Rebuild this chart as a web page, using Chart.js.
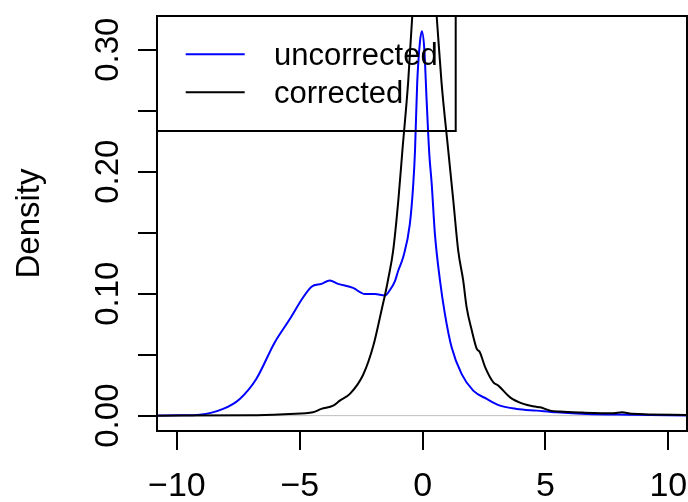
<!DOCTYPE html>
<html lang="en">
<head>
<meta charset="UTF-8" />
<title>Density</title>
<script src="https://cdn.jsdelivr.net/npm/chart.js"></script>
<style>
  html, body { margin: 0; padding: 0; background: #fff; }
  canvas { display: block; }
</style>
</head>
<body>
<canvas id="densityChart" width="688" height="502"></canvas>
<script>
// axis limits and ticks
const xRange = [-10.81, 10.76];
const yRange = [-0.0126, 0.3276];
const xTicks = [-10, -5, 0, 5, 10];
const yTicks = [0, 0.05, 0.1, 0.15, 0.2, 0.25, 0.3];
const yLabelTicks = [0, 0.1, 0.2, 0.3];
const yTitle = "Density";
const seriesNames = ["uncorrected", "corrected"];

// density curves
const uncorrectedX = [-10.81, -9.9, -9.07, -8.12, -7.44, -6.77, -6.02, -5.41, -4.86, -4.52, -4.12, -3.78, -3.44, -2.83, -2.35, -1.94, -1.54, -1.33, -1.13, -0.99, -0.79, -0.52, -0.38, -0.31, -0.22, -0.11, -0.03, 0.07, 0.16, 0.27, 0.37, 0.5, 0.7, 0.91, 1.18, 1.59, 2.06, 2.61, 3.15, 3.83, 4.65, 5.46, 6.68, 8.5, 10.76];
const uncorrectedY = [0.0001, 0.0003, 0.0008, 0.0055, 0.0137, 0.030, 0.060, 0.079, 0.097, 0.1057, 0.108, 0.1107, 0.108, 0.1047, 0.0997, 0.0997, 0.0984, 0.103, 0.110, 0.119, 0.130, 0.157, 0.19, 0.217, 0.273, 0.306, 0.315, 0.30, 0.26, 0.215, 0.19, 0.149, 0.112, 0.083, 0.056, 0.034, 0.0205, 0.0137, 0.0082, 0.0055, 0.0041, 0.0027, 0.0014, 0.0008, 0.0002];

const correctedX = [-10.81, -7.0, -5.41, -4.46, -4.12, -3.64, -3.37, -2.96, -2.42, -2.01, -1.61, -1.54, -1.4, -1.2, -0.99, -0.82, -0.59, -0.42, -0.2, 0.08, 0.35, 0.57, 0.77, 1.04, 1.25, 1.45, 1.65, 1.79, 2.0, 2.2, 2.33, 2.54, 2.88, 3.08, 3.56, 4.1, 4.58, 4.78, 5.19, 5.59, 6.5, 7.77, 8.11, 8.5, 10.76];
const correctedY = [0.0, 0.0003, 0.0014, 0.0027, 0.0055, 0.0082, 0.0123, 0.0178, 0.0335, 0.057, 0.092, 0.098, 0.112, 0.135, 0.176, 0.218, 0.273, 0.328, 0.38, 0.41, 0.38, 0.328, 0.273, 0.218, 0.176, 0.135, 0.111, 0.089, 0.070, 0.055, 0.052, 0.040, 0.0273, 0.0246, 0.015, 0.0096, 0.0074, 0.0068, 0.0041, 0.0033, 0.0025, 0.0019, 0.0027, 0.0015, 0.0006];

const fontFamily = "'Liberation Sans', Arial, sans-serif";

const toPoints = (xs, ys) => xs.map((x, i) => ({ x: x, y: ys[i] }));

const rPlotStyle = {
  id: "rPlotStyle",
  beforeDatasetsDraw(chart) {
    const { ctx, chartArea, scales } = chart;
    const y0 = scales.y.getPixelForValue(0);
    ctx.save();
    ctx.strokeStyle = "#bebebe";
    ctx.lineWidth = 1;
    ctx.beginPath();
    ctx.moveTo(chartArea.left, y0);
    ctx.lineTo(chartArea.right, y0);
    ctx.stroke();
    ctx.restore();
  },
  afterDraw(chart) {
    const { ctx, chartArea, scales } = chart;
    ctx.save();
    ctx.strokeStyle = "#000";
    ctx.lineWidth = 2;
    ctx.strokeRect(chartArea.left, chartArea.top, chartArea.right - chartArea.left, chartArea.bottom - chartArea.top);

    // y tick labels, rotated like R's las = 0
    ctx.fillStyle = "#000";
    ctx.font = "33px " + fontFamily;
    ctx.textAlign = "center";
    ctx.textBaseline = "alphabetic";
    yLabelTicks.forEach(v => {
      ctx.save();
      ctx.translate(chartArea.left - 39, scales.y.getPixelForValue(v));
      ctx.rotate(-Math.PI / 2);
      ctx.fillText(v.toFixed(2), 0, 0);
      ctx.restore();
    });

    ctx.save();
    ctx.translate(39, (chartArea.top + chartArea.bottom) / 2);
    ctx.rotate(-Math.PI / 2);
    ctx.fillText(yTitle, 0, 0);
    ctx.restore();

    // legend box in the top left corner
    const colors = chart.data.datasets.map(d => d.borderColor);
    ctx.font = "31px " + fontFamily;
    ctx.textAlign = "left";
    ctx.textBaseline = "alphabetic";
    const left = chartArea.left, top = chartArea.top;
    const textX = left + 117;
    const widest = Math.max(...seriesNames.map(s => ctx.measureText(s).width));
    ctx.strokeRect(left, top, textX + widest + 18 - left, 115);
    seriesNames.forEach((name, i) => {
      const ly = top + 38.3 + i * 38;
      ctx.strokeStyle = colors[i];
      ctx.lineWidth = 2;
      ctx.beginPath();
      ctx.moveTo(left + 28.7, ly);
      ctx.lineTo(left + 87.7, ly);
      ctx.stroke();
      ctx.fillText(name, textX, ly + 11);
    });
    ctx.restore();
  }
};

new Chart(document.getElementById("densityChart"), {
  type: "line",
  data: {
    datasets: [
      {
        label: seriesNames[0],
        data: toPoints(uncorrectedX, uncorrectedY),
        borderColor: "#0000ff",
        borderWidth: 2,
        pointRadius: 0,
        cubicInterpolationMode: "monotone",
        order: 2
      },
      {
        label: seriesNames[1],
        data: toPoints(correctedX, correctedY),
        borderColor: "#000000",
        borderWidth: 2,
        pointRadius: 0,
        cubicInterpolationMode: "monotone",
        order: 1
      }
    ]
  },
  options: {
    responsive: false,
    animation: false,
    layout: { padding: { top: 16, right: 1, left: 0, bottom: 0 } },
    plugins: { legend: { display: false }, tooltip: { enabled: false } },
    scales: {
      x: {
        type: "linear",
        min: xRange[0],
        max: xRange[1],
        afterBuildTicks: s => { s.ticks = xTicks.map(v => ({ value: v })); },
        afterFit: s => { s.height = 71; s.paddingLeft = 0; s.paddingRight = 0; },
        border: { display: false },
        grid: { drawOnChartArea: false, drawTicks: true, tickLength: 19, color: "#000", lineWidth: 2 },
        ticks: {
          color: "#000",
          padding: 16,
          maxRotation: 0,
          font: { size: 34, family: fontFamily },
          callback: v => (v < 0 ? "\u2212" + Math.abs(v) : String(v))
        }
      },
      y: {
        type: "linear",
        min: yRange[0],
        max: yRange[1],
        afterBuildTicks: s => { s.ticks = yTicks.map(v => ({ value: v })); },
        afterFit: s => { s.width = 157; s.paddingTop = 0; s.paddingBottom = 0; },
        border: { display: false },
        grid: { drawOnChartArea: false, drawTicks: true, tickLength: 19, color: "#000", lineWidth: 2 },
        ticks: { display: false }
      }
    }
  },
  plugins: [rPlotStyle]
});
</script>
</body>
</html>
